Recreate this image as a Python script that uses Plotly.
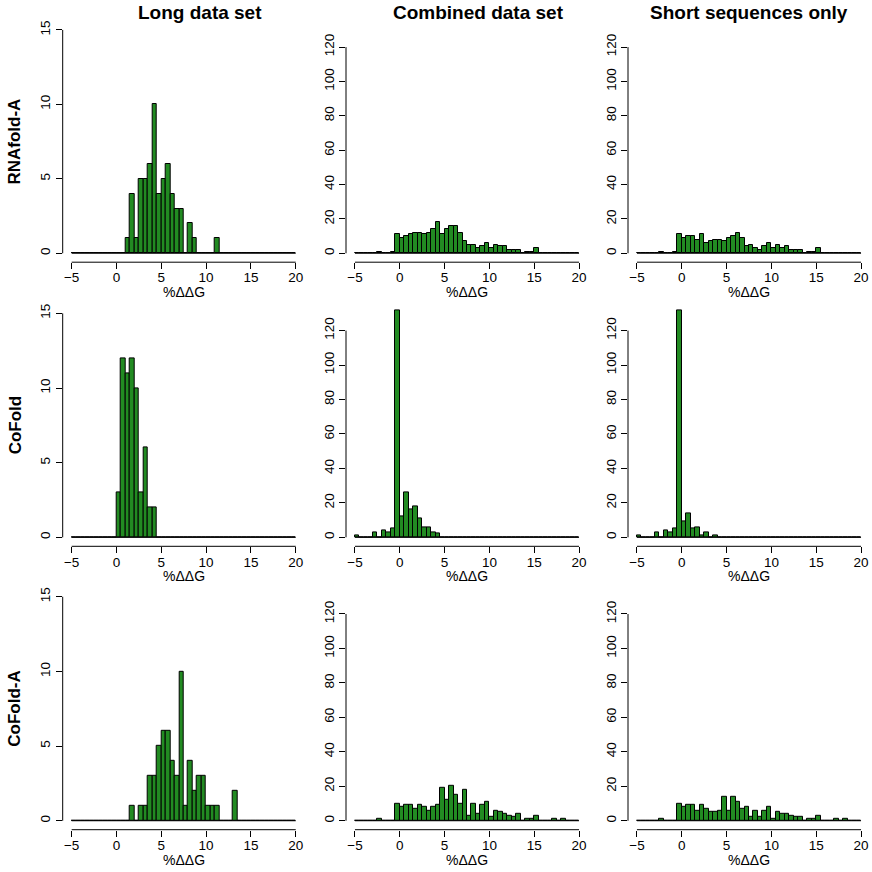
import plotly.graph_objects as go

# ---------------- data ----------------
BIN_START = -5.0
BIN_WIDTH = 0.5
N_BINS = 50  # bins from -5 to 20

ROW_LABELS = ["RNAfold-A", "CoFold", "CoFold-A"]
COL_TITLES = ["Long data set", "Combined data set", "Short sequences only"]
X_LABEL = "%ΔΔG"
X_TICKS = [-5, 0, 5, 10, 15, 20]
Y_TICKS_LONG = [0, 5, 10, 15]
Y_TICKS_ALL = [0, 20, 40, 60, 80, 100, 120]

# counts per bin (bin left edges -5.0, -4.5, ..., 19.5)
rnafold_long = [0, 0, 0, 0, 0, 0, 0, 0, 0, 0,
                0, 0, 1, 4, 1, 5, 5, 6, 10, 4,
                5, 6, 4, 3, 3, 0, 2, 1, 0, 0,
                0, 0, 1, 0, 0, 0, 0, 0, 0, 0,
                0, 0, 0, 0, 0, 0, 0, 0, 0, 0]
rnafold_combined = [0, 0, 0, 0, 0, 1, 0, 0, 1, 11,
                    9, 10, 11, 12, 12, 11, 12, 14, 18, 11,
                    14, 16, 16, 12, 7, 5, 5, 3, 4, 6,
                    3, 5, 4, 4, 2, 2, 2, 0, 1, 1,
                    3, 0, 0, 0, 0, 0, 0, 0, 0, 0]
rnafold_short = [0, 0, 0, 0, 0, 1, 0, 0, 1, 11,
                 9, 10, 10, 8, 11, 6, 7, 8, 8, 7,
                 9, 10, 12, 9, 4, 5, 3, 2, 4, 6,
                 3, 5, 3, 4, 2, 2, 2, 0, 1, 1,
                 3, 0, 0, 0, 0, 0, 0, 0, 0, 0]

cofold_long = [0, 0, 0, 0, 0, 0, 0, 0, 0, 0,
               3, 12, 11, 12, 10, 3, 6, 2, 2, 0,
               0, 0, 0, 0, 0, 0, 0, 0, 0, 0,
               0, 0, 0, 0, 0, 0, 0, 0, 0, 0,
               0, 0, 0, 0, 0, 0, 0, 0, 0, 0]
cofold_combined = [1, 0, 0, 0, 3, 0, 4, 3, 5, 132,
                   12, 26, 16, 18, 11, 6, 6, 3, 2, 0,
                   0, 0, 0, 0, 0, 0, 0, 0, 0, 0,
                   0, 0, 0, 0, 0, 0, 0, 0, 0, 0,
                   0, 0, 0, 0, 0, 0, 0, 0, 0, 0]
cofold_short = [1, 0, 0, 0, 3, 0, 4, 3, 5, 132,
                9, 14, 5, 6, 1, 3, 0, 1, 0, 0,
                0, 0, 0, 0, 0, 0, 0, 0, 0, 0,
                0, 0, 0, 0, 0, 0, 0, 0, 0, 0,
                0, 0, 0, 0, 0, 0, 0, 0, 0, 0]

cofolda_long = [0, 0, 0, 0, 0, 0, 0, 0, 0, 0,
                0, 0, 0, 1, 0, 1, 1, 3, 3, 5,
                6, 6, 4, 3, 10, 1, 4, 2, 3, 3,
                1, 1, 1, 0, 0, 0, 2, 0, 0, 0,
                0, 0, 0, 0, 0, 0, 0, 0, 0, 0]
cofolda_combined = [0, 0, 0, 0, 0, 1, 0, 0, 0, 10,
                    8, 9, 9, 7, 9, 8, 6, 8, 9, 19,
                    12, 20, 15, 10, 18, 3, 10, 4, 9, 11,
                    2, 6, 5, 4, 3, 2, 4, 0, 1, 1,
                    3, 0, 0, 0, 1, 0, 1, 0, 0, 0]
cofolda_short = [0, 0, 0, 0, 0, 1, 0, 0, 0, 10,
                 8, 9, 9, 6, 9, 7, 5, 5, 6, 14,
                 6, 14, 11, 7, 8, 2, 6, 2, 6, 8,
                 1, 5, 4, 4, 3, 2, 2, 0, 1, 1,
                 3, 0, 0, 0, 1, 0, 1, 0, 0, 0]

PANELS = [
    [rnafold_long, rnafold_combined, rnafold_short],
    [cofold_long, cofold_combined, cofold_short],
    [cofolda_long, cofolda_combined, cofolda_short],
]

# ---------------- layout / style ----------------
W = H = 872
FONT = "Liberation Sans, Arial, Helvetica, sans-serif"
BAR_COLOR = "#228B22"
# plot regions in pixel coordinates
COL_PX = [(62.7, 304.7), (346.0, 588.0), (628.0, 870.0)]
ROW_PX = [(21.0, 262.2), (304.4, 546.3), (587.8, 829.7)]
TITLE_X_PX = [200, 479, 749]
TITLE_Y_PX = 12
ROWLABEL_X_PX = 15
X_RANGE = [-6, 21]


def px_x(p):
    return p / W


def px_y(p):
    return 1 - p / H


centers = [BIN_START + BIN_WIDTH * (i + 0.5) for i in range(N_BINS)]
bin_end = BIN_START + BIN_WIDTH * N_BINS

fig = go.Figure()
layout = dict(
    width=W, height=H,
    margin=dict(l=0, r=0, t=0, b=0),
    plot_bgcolor="white", paper_bgcolor="white",
    showlegend=False, bargap=0,
    font=dict(family=FONT, color="black", size=13.5),
)
shapes = []
annotations = []

k = 0
for r in range(3):
    for c in range(3):
        k += 1
        xa = "x" if k == 1 else f"x{k}"
        ya = "y" if k == 1 else f"y{k}"
        counts = PANELS[r][c]
        yt = Y_TICKS_LONG if c == 0 else Y_TICKS_ALL
        ymax = yt[-1] if c == 0 else 130
        yr = [-0.04 * ymax, 1.04 * ymax]

        fig.add_trace(go.Scatter(
            x=[BIN_START, bin_end], y=[0, 0], mode="lines",
            line=dict(color="black", width=1), xaxis=xa, yaxis=ya,
            hoverinfo="skip"))
        fig.add_trace(go.Bar(
            x=centers, y=counts, width=BIN_WIDTH,
            marker=dict(color=BAR_COLOR, line=dict(color="black", width=1)),
            xaxis=xa, yaxis=ya))

        x0p, x1p = COL_PX[c]
        t, b = ROW_PX[r]
        xkey = "xaxis" if k == 1 else f"xaxis{k}"
        ykey = "yaxis" if k == 1 else f"yaxis{k}"
        layout[xkey] = dict(
            domain=[px_x(x0p), px_x(x1p)], anchor=ya, range=X_RANGE,
            tickvals=X_TICKS, ticks="outside", ticklen=6, tickwidth=1,
            tickcolor="black", showgrid=False, zeroline=False, showline=False,
            ticklabelstandoff=-3,
            tickfont=dict(family=FONT, size=13.5, color="black"),
        )
        layout[ykey] = dict(
            domain=[px_y(b), px_y(t)], anchor=xa, range=yr,
            tickvals=yt, ticks="outside", ticklen=6, tickwidth=1,
            tickcolor="black", showgrid=False, zeroline=False, showline=False,
            tickangle=-90,
            tickfont=dict(family=FONT, size=13.5, color="black"),
        )
        # axis lines spanning first to last tick (R style)
        shapes.append(dict(type="line", xref=xa, yref=f"{ya} domain",
                           x0=X_TICKS[0], x1=X_TICKS[-1], y0=0, y1=0,
                           line=dict(color="black", width=1)))
        shapes.append(dict(type="line", xref=f"{xa} domain", yref=ya,
                           x0=0, x1=0, y0=yt[0], y1=yt[-1],
                           line=dict(color="black", width=1)))
        # x label
        annotations.append(dict(
            text=X_LABEL, xref=f"{xa} domain", yref=f"{ya} domain",
            x=0.5, y=0, yshift=-30, xanchor="center", yanchor="middle",
            showarrow=False, font=dict(family=FONT, size=14, color="black")))

for c, title in enumerate(COL_TITLES):
    annotations.append(dict(
        text=f"<b>{title}</b>", xref="paper", yref="paper",
        x=px_x(TITLE_X_PX[c]), y=px_y(TITLE_Y_PX),
        xanchor="center", yanchor="middle", showarrow=False,
        font=dict(family=FONT, size=19, color="black")))

for r, lab in enumerate(ROW_LABELS):
    t, b = ROW_PX[r]
    annotations.append(dict(
        text=f"<b>{lab}</b>", xref="paper", yref="paper",
        x=px_x(ROWLABEL_X_PX), y=px_y((t + b) / 2),
        xanchor="center", yanchor="middle", textangle=-90, showarrow=False,
        font=dict(family=FONT, size=17, color="black")))

layout["shapes"] = shapes
layout["annotations"] = annotations
fig.update_layout(**layout)
fig.write_html(
    "out.html",
    config={"displayModeBar": False},
    post_script="document.body.style.margin='0';document.body.style.overflow='hidden';",
)
